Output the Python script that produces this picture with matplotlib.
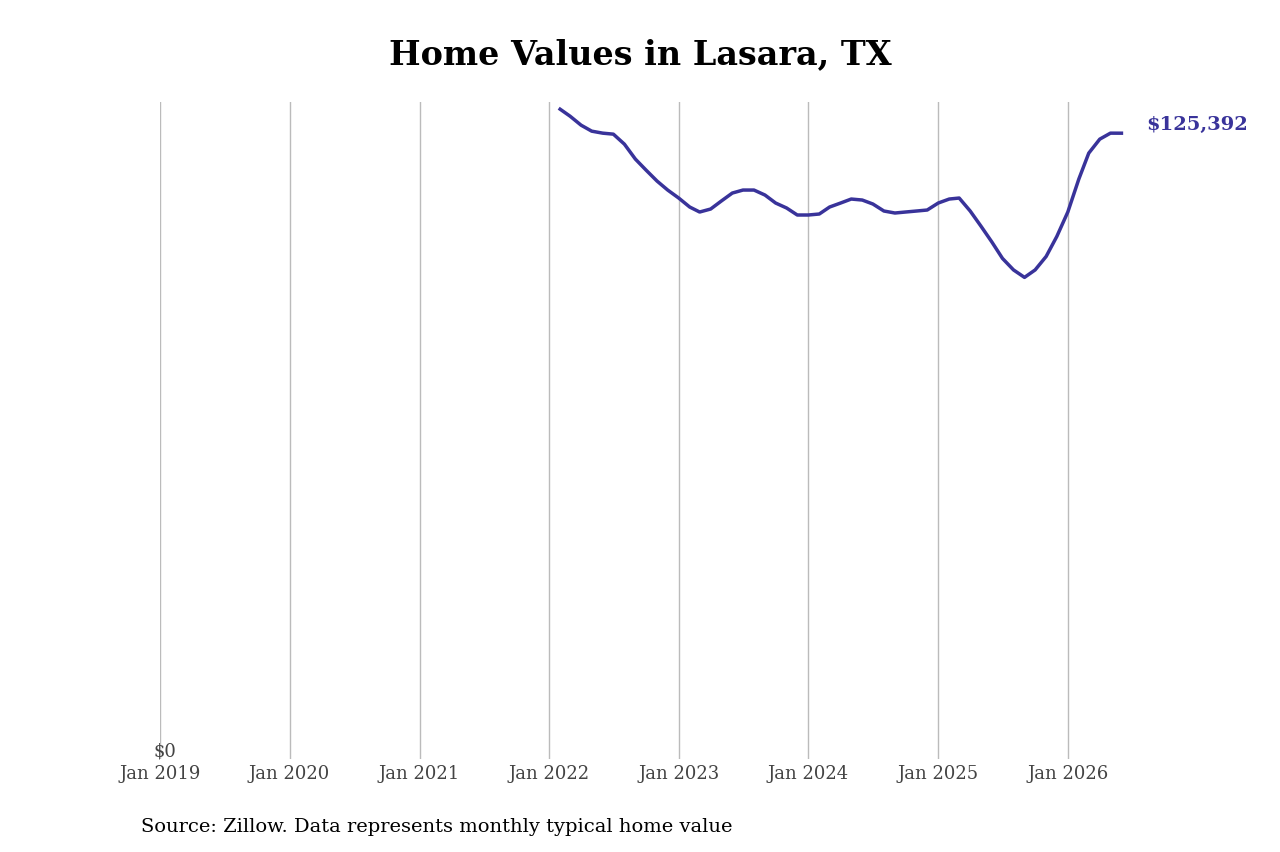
import matplotlib
matplotlib.use('Agg')
import matplotlib.pyplot as plt
import matplotlib.dates as mdates
import pandas as pd

# monthly typical home value, Feb 2022 - Jun 2026
dates = pd.date_range('2022-02-01', '2026-06-01', freq='MS')
values = [130200, 128800, 127000, 125800, 125400, 125200, 123200, 120200, 118000, 115800,
          114000, 112400, 110600, 109600, 110200, 111800, 113400, 114000, 114000, 113000,
          111400, 110400, 109000, 109000, 109200, 110600, 111400, 112200, 112000, 111200,
          109800, 109400, 109600, 109800, 110000, 111400, 112200, 112400, 109800, 106800,
          103600, 100300, 98000, 96500, 98000, 100700, 104700, 109600, 116200, 121400,
          124200, 125400, 125392]
tick_years = list(range(2019, 2027))

plt.rcParams['font.family'] = 'DejaVu Serif'
fig = plt.figure(figsize=(12.8, 8.53), dpi=100)
ax = fig.add_axes([0.125, 0.109, 0.755, 0.77])

color = '#39339a'
ax.plot(dates, values, color=color, linewidth=2.5)
ax.annotate(f'${values[-1]:,.0f}', xy=(dates[-1], values[-1]), xytext=(18, 0),
            textcoords='offset points', color=color, fontsize=14, fontweight='bold',
            va='bottom')

ax.set_xlim(pd.Timestamp('2019-01-01'), pd.Timestamp('2026-06-15'))
ax.set_ylim(0, 131600)
ax.set_xticks([pd.Timestamp(f'{y}-01-01') for y in tick_years])
ax.xaxis.set_major_formatter(mdates.DateFormatter('Jan %Y'))
ax.set_yticks([0])
ax.set_yticklabels(['$0'])
ax.tick_params(length=0, labelsize=13, colors='#444444')
ax.tick_params(axis='y', pad=-12)
for lbl in ax.get_yticklabels():
    lbl.set_verticalalignment('bottom')
ax.grid(axis='x', color='#bbbbbb', linewidth=1)
for s in ax.spines.values():
    s.set_visible(False)

fig.suptitle('Home Values in Lasara, TX', fontsize=24, fontweight='bold', y=0.955)
fig.text(0.11, 0.02, 'Source: Zillow. Data represents monthly typical home value',
         fontsize=14, transform=fig.transFigure, va='bottom')
fig.savefig('out.png', dpi=100, facecolor='white')
